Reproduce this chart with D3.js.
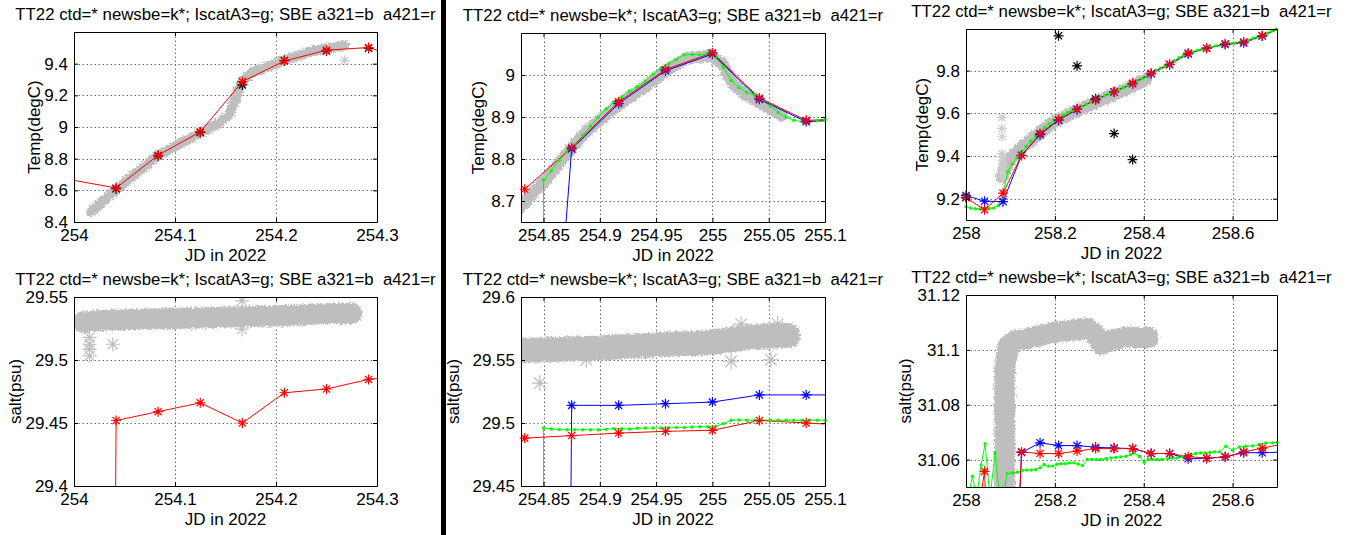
<!DOCTYPE html>
<html>
<head>
<meta charset="utf-8">
<script src="https://cdn.jsdelivr.net/npm/d3@7"></script>
<style>
  html, body { margin: 0; padding: 0; background: #fff; }
  svg { display: block; }
  text.title { white-space: pre; }
</style>
</head>
<body>
<svg id="fig" width="1345" height="535"></svg>
<script>
// ---------------- text ----------------
const titleText = "TT22 ctd=* newsbe=k*; IscatA3=g; SBE a321=b  a421=r";
const xLabelText = "JD in 2022";

// ---------------- tick values ----------------
const xTicksA = [254, 254.1, 254.2, 254.3];
const xTicksB = [254.85, 254.9, 254.95, 255, 255.05, 255.1];
const xTicksC = [258, 258.2, 258.4, 258.6];
const yTicksTempA = [8.4, 8.6, 8.8, 9, 9.2, 9.4];
const yTicksTempB = [8.7, 8.8, 8.9, 9];
const yTicksTempC = [9.2, 9.4, 9.6, 9.8];
const yTicksSaltA = [29.4, 29.45, 29.5, 29.55];
const yTicksSaltB = [29.45, 29.5, 29.55, 29.6];
const yTicksSaltC = [31.06, 31.08, 31.1, 31.12];

// ---------------- day 254 : temperature ----------------
const tempA_ctdJD   = [254.017, 254.041, 254.082, 254.124, 254.144, 254.154, 254.161, 254.167, 254.177, 254.191, 254.208, 254.233, 254.250, 254.268];
const tempA_ctd     = [8.466, 8.600, 8.816, 8.960, 9.025, 9.082, 9.198, 9.294, 9.347, 9.379, 9.421, 9.474, 9.495, 9.517];
const tempA_ctdOddJD = [254.268];
const tempA_ctdOdd   = [9.421];
const tempA_newsbeJD = [254.0417, 254.0833, 254.1250, 254.1667, 254.2083, 254.2500, 254.2917];
const tempA_newsbe   = [8.610, 8.818, 8.966, 9.266, 9.420, 9.480, 9.498];
const tempA_a421JD   = [253.9583, 254.0417, 254.0833, 254.1250, 254.1667, 254.2083, 254.2500, 254.2917, 254.3333];
const tempA_a421     = [8.711, 8.615, 8.822, 8.969, 9.287, 9.417, 9.485, 9.502, 9.420];

// ---------------- day 254/255 : temperature ----------------
const tempB_ctdJD = [254.829, 254.850, 254.875, 254.891, 254.917, 254.936, 254.958, 254.977, 254.998, 255.009, 255.018, 255.030, 255.040, 255.054, 255.062];
const tempB_ctd   = [8.685, 8.745, 8.826, 8.873, 8.930, 8.964, 9.009, 9.040, 9.046, 9.027, 8.980, 8.952, 8.938, 8.916, 8.903];
const iscatJD_B = [254.8431, 254.8500, 254.8569, 254.8639, 254.8708, 254.8778, 254.8847, 254.8917, 254.8986, 254.9056,
                   254.9125, 254.9194, 254.9264, 254.9333, 254.9403, 254.9472, 254.9542, 254.9611, 254.9681, 254.9750,
                   254.9819, 254.9889, 254.9958, 255.0028, 255.0097, 255.0167, 255.0236, 255.0306, 255.0375, 255.0444,
                   255.0514, 255.0583, 255.0653, 255.0722, 255.0792, 255.0861, 255.0931, 255.1000];
const tempB_iscat = [0.0, 8.750, 8.772, 8.797, 8.817, 8.835, 8.856, 8.878, 8.899, 8.919,
                     8.935, 8.948, 8.962, 8.972, 8.985, 9.002, 9.016, 9.027, 9.037, 9.048,
                     9.049, 9.048, 9.052, 9.043, 9.019, 8.987, 8.970, 8.959, 8.952, 8.940,
                     8.926, 8.911, 8.900, 8.892, 8.889, 8.888, 8.891, 8.894];
const sbeJD_B = [254.8333, 254.8750, 254.9167, 254.9583, 255.0000, 255.0417, 255.0833, 255.1250];
const tempB_a321 = [7.37, 8.824, 8.932, 9.010, 9.050, 8.942, 8.889, 8.894];
const tempB_a421 = [8.728, 8.827, 8.936, 9.013, 9.053, 8.945, 8.892, 8.896];

// ---------------- day 258 : temperature ----------------
const tempC_ctdJD = [258.082, 258.090, 258.105, 258.130, 258.160, 258.200, 258.250, 258.300, 258.350, 258.403];
const tempC_ctd   = [9.300, 9.350, 9.400, 9.448, 9.498, 9.562, 9.612, 9.658, 9.703, 9.757];
const tempC_ctdOddJD = [258.081, 258.081, 258.081, 258.081, 258.082, 258.082, 258.083, 258.083, 258.083, 258.084];
const tempC_ctdOdd   = [9.581, 9.529, 9.490, 9.411, 9.395, 9.380, 9.360, 9.340, 9.320, 9.300];
const tempC_newsbeJD = [258.0000, 258.2083, 258.2500, 258.2917, 258.3333, 258.3750];
const tempC_newsbe   = [9.206, 9.963, 9.822, 9.668, 9.505, 9.383];
const iscatJD_C = [258.0000, 258.0104, 258.0208, 258.0313, 258.0417, 258.0521, 258.0625, 258.0729, 258.0833, 258.0938,
                   258.1042, 258.1146, 258.1250, 258.1354, 258.1458, 258.1563, 258.1667, 258.1771, 258.1875, 258.1979,
                   258.2083, 258.2188, 258.2292, 258.2396, 258.2500, 258.2604, 258.2708, 258.2813, 258.2917, 258.3021,
                   258.3125, 258.3229, 258.3333, 258.3438, 258.3542, 258.3646, 258.3750, 258.3854, 258.3958, 258.4063,
                   258.4167, 258.4271, 258.4375, 258.4479, 258.4583, 258.4688, 258.4792, 258.4896, 258.5000, 258.5104,
                   258.5208, 258.5313, 258.5417, 258.5521, 258.5625, 258.5729, 258.5833, 258.5938, 258.6042, 258.6146,
                   258.6250, 258.6354, 258.6458, 258.6563, 258.6667, 258.6771, 258.6875, 258.6979];
const tempC_iscat = [9.162, 9.156, 9.153, 9.152, 9.153, 9.154, 9.156, 9.168, 9.225, 9.325,
                     9.362, 9.392, 9.418, 9.445, 9.470, 9.494, 9.514, 9.533, 9.551, 9.567,
                     9.578, 9.592, 9.604, 9.614, 9.622, 9.632, 9.643, 9.654, 9.664, 9.674,
                     9.684, 9.692, 9.700, 9.710, 9.720, 9.730, 9.740, 9.752, 9.762, 9.772,
                     9.787, 9.802, 9.812, 9.822, 9.832, 9.846, 9.860, 9.872, 9.880, 9.888,
                     9.895, 9.900, 9.904, 9.910, 9.916, 9.920, 9.924, 9.926, 9.928, 9.932,
                     9.935, 9.942, 9.952, 9.958, 9.965, 9.975, 9.985, 9.994];
const sbeJD_C = [258.0000, 258.0417, 258.0833, 258.1250, 258.1667, 258.2083, 258.2500, 258.2917, 258.3333,
                 258.3750, 258.4167, 258.4583, 258.5000, 258.5417, 258.5833, 258.6250, 258.6667, 258.7083];
const tempC_a321 = [9.215, 9.188, 9.186, 9.403, 9.500, 9.568, 9.618, 9.665, 9.700, 9.738, 9.785, 9.828, 9.878, 9.905, 9.922, 9.930, 9.962, 10.000];
const tempC_a421 = [9.204, 9.148, 9.226, 9.402, 9.505, 9.571, 9.620, 9.662, 9.701, 9.741, 9.788, 9.830, 9.882, 9.905, 9.926, 9.934, 9.963, 10.000];

// ---------------- day 254 : salinity ----------------
const saltA_ctdJD = [254.008, 254.033, 254.100, 254.150, 254.200, 254.257, 254.275];
const saltA_ctd   = [29.530, 29.5317, 29.533, 29.534, 29.535, 29.537, 29.537];
const saltA_ctdOddJD = [254.0154, 254.0154, 254.0154, 254.0154, 254.0384, 254.1663, 254.1663];
const saltA_ctdOdd   = [29.5179, 29.5125, 29.5085, 29.5032, 29.5125, 29.547, 29.5245];
const saltA_a421JD = [253.9583, 254.0417, 254.0833, 254.1250, 254.1667, 254.2083, 254.2500, 254.2917, 254.3333];
const saltA_a421   = [20.0, 29.452, 29.459, 29.466, 29.450, 29.474, 29.477, 29.4846, 29.488];

// ---------------- day 254/255 : salinity ----------------
const saltB_ctdJD = [254.828, 254.900, 254.950, 255.000, 255.012, 255.030, 255.050, 255.067];
const saltB_ctd   = [29.5575, 29.5595, 29.562, 29.5638, 29.5655, 29.568, 29.569, 29.5695];
const saltB_ctdOddJD = [254.8467, 255.0166, 255.052, 254.888, 255.0255, 255.058];
const saltB_ctdOdd   = [29.5317, 29.549, 29.5502, 29.5502, 29.5785, 29.5785];
const saltB_iscat = [20.0, 29.4960, 29.4952, 29.4948, 29.4947, 29.4947, 29.4947, 29.4947, 29.4947, 29.4950,
                     29.4955, 29.4955, 29.4952, 29.4958, 29.4960, 29.4960, 29.4960, 29.4962, 29.4965, 29.4965,
                     29.4968, 29.4970, 29.4970, 29.4973, 29.4995, 29.5022, 29.5024, 29.5022, 29.5022, 29.5023,
                     29.5022, 29.5022, 29.5023, 29.5022, 29.5021, 29.5022, 29.5022, 29.5022];
const saltB_a321 = [25.0, 29.514, 29.514, 29.5153, 29.5166, 29.5223, 29.5223, 29.5223];
const saltB_a421 = [29.488, 29.490, 29.492, 29.4934, 29.4942, 29.502, 29.500, 29.498];

// ---------------- day 258 : salinity ----------------
const saltC_ctdJD = [258.087, 258.087, 258.095, 258.110, 258.130, 258.200, 258.275, 258.292, 258.305, 258.325, 258.360, 258.410];
const saltC_ctd   = [31.045, 31.093, 31.1015, 31.1035, 31.1038, 31.1065, 31.1078, 31.1055, 31.1020, 31.1035, 31.1045, 31.1045];
const saltC_ctdOddJD = [258.085, 258.090, 258.084, 258.089, 258.085, 258.088, 258.086, 258.090];
const saltC_ctdOdd   = [31.051, 31.057, 31.063, 31.069, 31.075, 31.081, 31.087, 31.054];
const saltC_iscatJD = [258.003, 258.0145, 258.024, 258.034, 258.043, 258.054, 258.0655, 258.076, 258.084, 258.093,
                       258.104, 258.116, 258.127, 258.137, 258.147, 258.157, 258.167, 258.176, 258.186, 258.195,
                       258.205, 258.214, 258.224, 258.233, 258.243, 258.252, 258.262, 258.273, 258.283, 258.294,
                       258.304, 258.315, 258.326, 258.337, 258.348, 258.360, 258.370, 258.378, 258.390, 258.401,
                       258.410, 258.420, 258.430, 258.440, 258.455, 258.465, 258.475, 258.486, 258.496, 258.507,
                       258.517, 258.528, 258.538, 258.549, 258.559, 258.570, 258.585, 258.600, 258.615, 258.630,
                       258.645, 258.660, 258.675, 258.690, 258.700];
const saltC_iscat = [31.045, 31.0539, 31.046, 31.058, 31.0658, 31.046, 31.0624, 31.046, 31.047, 31.0549,
                     31.0551, 31.0554, 31.0561, 31.0562, 31.0562, 31.0564, 31.0570, 31.0582, 31.0576, 31.0576,
                     31.0583, 31.0585, 31.0585, 31.0588, 31.0588, 31.0584, 31.0578, 31.0600, 31.0600, 31.0600,
                     31.0600, 31.0603, 31.0606, 31.0608, 31.0610, 31.0612, 31.0618, 31.0624, 31.0612, 31.0590,
                     31.0600, 31.0600, 31.0600, 31.0600, 31.0603, 31.0606, 31.0606, 31.0610, 31.0612, 31.0618,
                     31.0622, 31.0624, 31.0624, 31.0626, 31.0628, 31.0628, 31.0649, 31.0634, 31.0646, 31.0649,
                     31.0650, 31.0655, 31.0661, 31.0661, 31.0662];
const saltC_a321JD = [258.0833, 258.1250, 258.1667, 258.2083, 258.2500, 258.2917, 258.3333, 258.3750,
                      258.4167, 258.4583, 258.5000, 258.5417, 258.5833, 258.6250, 258.6667, 258.7083];
const saltC_a321 = [30.900, 31.0626, 31.0661, 31.0651, 31.0651, 31.0645, 31.0642, 31.0640,
                    31.0622, 31.0622, 31.0603, 31.0604, 31.0610, 31.0625, 31.0625, 31.0627];
const saltC_a421 = [31.010, 31.0557, 30.900, 31.0628, 31.0622, 31.0622, 31.0631, 31.0640, 31.0640,
                    31.0640, 31.0622, 31.0622, 31.0611, 31.0605, 31.0610, 31.0628, 31.0642, 31.0655];

// ---------------- drawing ----------------
const FONT = '"Liberation Sans", Arial, Helvetica, sans-serif';
const GREY = "rgb(190,190,190)";
const svg = d3.select("#fig");
const defs = svg.append("defs");

svg.append("rect").attr("width", 1345).attr("height", 535).attr("fill", "#fff");

// rough edge for the dense ctd trace
const fuzz = defs.append("filter").attr("id", "fuzz")
  .attr("filterUnits", "userSpaceOnUse")
  .attr("x", 0).attr("y", 0).attr("width", 1345).attr("height", 535);
fuzz.append("feTurbulence").attr("type", "fractalNoise")
  .attr("baseFrequency", 0.55).attr("numOctaves", 2).attr("seed", 4).attr("result", "noise");
fuzz.append("feDisplacementMap").attr("in", "SourceGraphic").attr("in2", "noise")
  .attr("scale", 6).attr("xChannelSelector", "R").attr("yChannelSelector", "G");

const zip = (a, b) => a.map((v, i) => [v, b[i]]);
const fmt = v => String(+v.toFixed(3));

function starPath(r) {
  const d = r * 0.72;
  return `M${-r},0H${r}M0,${-r}V${r}M${-d},${-d}L${d},${d}M${-d},${d}L${d},${-d}`;
}

const panels = [
  { box: [74, 377, 32, 222], xDomain: [254, 254.3], yDomain: [8.4, 9.6],
    xTicks: xTicksA, yTicks: yTicksTempA, ylabel: "Temp(degC)", ylabelX: 34, bandWidth: 10,
    band: zip(tempA_ctdJD, tempA_ctd),
    odd: zip(tempA_ctdOddJD, tempA_ctdOdd), oddColor: "rgb(200,200,200)", oddR: 5,
    series: [
      { pts: zip(tempA_newsbeJD, tempA_newsbe), color: "#000", line: false, mark: "star" },
      { pts: zip(tempA_a421JD, tempA_a421), color: "#f00", line: true, mark: "star" }
    ] },
  { box: [521, 825, 33, 222], xDomain: [254.83, 255.1], yDomain: [8.65, 9.1],
    xTicks: xTicksB, yTicks: yTicksTempB, ylabel: "Temp(degC)", ylabelX: 478, bandWidth: 12,
    band: zip(tempB_ctdJD, tempB_ctd), odd: [], oddColor: GREY, oddR: 6,
    series: [
      { pts: zip(iscatJD_B, tempB_iscat), color: "#0f0", line: true, mark: "dot" },
      { pts: zip(sbeJD_B, tempB_a321), color: "#00f", line: true, mark: "star" },
      { pts: zip(sbeJD_B, tempB_a421), color: "#f00", line: true, mark: "star" }
    ] },
  { box: [966, 1277, 29, 220], xDomain: [258, 258.7], yDomain: [9.1, 9.995],
    xTicks: xTicksC, yTicks: yTicksTempC, ylabel: "Temp(degC)", ylabelX: 922.5, bandWidth: 13,
    band: zip(tempC_ctdJD, tempC_ctd),
    odd: zip(tempC_ctdOddJD, tempC_ctdOdd), oddColor: "rgb(205,205,205)", oddR: 5,
    series: [
      { pts: zip(tempC_newsbeJD, tempC_newsbe), color: "#000", line: false, mark: "star" },
      { pts: zip(iscatJD_C, tempC_iscat), color: "#0f0", line: true, mark: "dot" },
      { pts: zip(sbeJD_C, tempC_a321), color: "#00f", line: true, mark: "star" },
      { pts: zip(sbeJD_C, tempC_a421), color: "#f00", line: true, mark: "star" }
    ] },
  { box: [74, 377, 297, 486], xDomain: [254, 254.3], yDomain: [29.4, 29.55],
    xTicks: xTicksA, yTicks: yTicksSaltA, ylabel: "salt(psu)", ylabelX: 15, bandWidth: 21,
    band: zip(saltA_ctdJD, saltA_ctd),
    odd: zip(saltA_ctdOddJD, saltA_ctdOdd), oddColor: GREY, oddR: 7,
    series: [
      { pts: zip(saltA_a421JD, saltA_a421), color: "#f00", line: true, mark: "star" }
    ] },
  { box: [521, 825, 297, 486], xDomain: [254.83, 255.1], yDomain: [29.45, 29.6],
    xTicks: xTicksB, yTicks: yTicksSaltB, ylabel: "salt(psu)", ylabelX: 453, bandWidth: 25,
    band: zip(saltB_ctdJD, saltB_ctd),
    odd: zip(saltB_ctdOddJD, saltB_ctdOdd), oddColor: GREY, oddR: 8,
    series: [
      { pts: zip(iscatJD_B, saltB_iscat), color: "#0f0", line: true, mark: "dot" },
      { pts: zip(sbeJD_B, saltB_a321), color: "#00f", line: true, mark: "star" },
      { pts: zip(sbeJD_B, saltB_a421), color: "#f00", line: true, mark: "star" }
    ] },
  { box: [966, 1277, 295, 487], xDomain: [258, 258.7], yDomain: [31.05, 31.12],
    xTicks: xTicksC, yTicks: yTicksSaltC, ylabel: "salt(psu)", ylabelX: 905, bandWidth: 21,
    band: zip(saltC_ctdJD, saltC_ctd),
    odd: zip(saltC_ctdOddJD, saltC_ctdOdd), oddColor: GREY, oddR: 8,
    series: [
      { pts: zip(saltC_iscatJD, saltC_iscat), color: "#0f0", line: true, mark: "dot" },
      { pts: zip(saltC_a321JD, saltC_a321), color: "#00f", line: true, mark: "star" },
      { pts: zip(sbeJD_C, saltC_a421), color: "#f00", line: true, mark: "star" }
    ] }
];

function drawPanel(p, idx) {
  const [L, R, T, B] = p.box;
  const x = d3.scaleLinear().domain(p.xDomain).range([L, R]);
  const y = d3.scaleLinear().domain(p.yDomain).range([B, T]);
  const g = svg.append("g");
  const clipId = "plotclip" + idx;
  defs.append("clipPath").attr("id", clipId).append("rect")
    .attr("x", L + 0.5).attr("y", T + 0.5).attr("width", R - L).attr("height", B - T);

  g.append("rect").attr("x", L).attr("y", T).attr("width", R - L).attr("height", B - T).attr("fill", "#fff");

  // dotted grid
  const grid = g.append("g").attr("stroke", "#707070").attr("stroke-width", 1)
    .attr("stroke-dasharray", "1.5,2.5");
  p.xTicks.forEach(v => {
    const px = Math.round(x(v)) + 0.5;
    if (px > L + 1.5 && px < R - 0.5)
      grid.append("line").attr("x1", px).attr("x2", px).attr("y1", T + 0.5).attr("y2", B + 0.5);
  });
  p.yTicks.forEach(v => {
    const py = Math.round(y(v)) + 0.5;
    if (py > T + 1.5 && py < B - 0.5)
      grid.append("line").attr("x1", L + 0.5).attr("x2", R + 0.5).attr("y1", py).attr("y2", py);
  });

  const line = d3.line().x(d => x(d[0])).y(d => y(d[1]));
  const inside = d => d[0] >= p.xDomain[0] - 1e-9 && d[0] <= p.xDomain[1] + 1e-9 &&
                      d[1] >= p.yDomain[0] && d[1] <= p.yDomain[1];

  // ctd trace: dense grey asterisks drawn as a broad rough band
  const clipped = g.append("g").attr("clip-path", `url(#${clipId})`);
  clipped.append("path").datum(p.band).attr("d", line)
    .attr("fill", "none").attr("stroke", GREY).attr("stroke-width", p.bandWidth)
    .attr("stroke-linecap", "round").attr("stroke-linejoin", "round")
    .attr("filter", "url(#fuzz)");
  clipped.selectAll("path.odd").data(p.odd).join("path").attr("class", "odd")
    .attr("transform", d => `translate(${x(d[0])},${y(d[1])})`)
    .attr("d", starPath(p.oddR)).attr("fill", "none").attr("stroke", p.oddColor).attr("stroke-width", 1.2);

  // instrument series
  p.series.forEach(s => {
    if (s.line) {
      clipped.append("path").datum(s.pts).attr("d", line)
        .attr("fill", "none").attr("stroke", s.color).attr("stroke-width", 1);
    }
    const shown = s.pts.filter(inside);
    if (s.mark === "star") {
      g.append("g").selectAll("path").data(shown).join("path")
        .attr("transform", d => `translate(${x(d[0])},${y(d[1])})`)
        .attr("d", starPath(5)).attr("fill", "none").attr("stroke", s.color).attr("stroke-width", 1.2);
    } else if (s.mark === "dot") {
      g.append("g").selectAll("circle").data(shown).join("circle")
        .attr("cx", d => x(d[0])).attr("cy", d => y(d[1])).attr("r", 1.7).attr("fill", s.color);
    }
  });

  // axes box with inward ticks
  const styleAxis = sel => sel.attr("font-size", 17).attr("font-family", FONT)
    .call(a => a.selectAll("text").attr("fill", "#000"))
    .call(a => a.selectAll("line,path").attr("stroke", "#000"));
  g.append("g").attr("transform", `translate(0,${B})`)
    .call(d3.axisBottom(x).tickValues(p.xTicks).tickSize(-4).tickSizeOuter(0).tickPadding(7).tickFormat(fmt))
    .call(styleAxis);
  g.append("g").attr("transform", `translate(0,${T})`)
    .call(d3.axisTop(x).tickValues(p.xTicks).tickSize(-4).tickSizeOuter(0).tickFormat(""))
    .call(styleAxis);
  g.append("g").attr("transform", `translate(${L},0)`)
    .call(d3.axisLeft(y).tickValues(p.yTicks).tickSize(-4).tickSizeOuter(0).tickPadding(6).tickFormat(fmt))
    .call(styleAxis);
  g.append("g").attr("transform", `translate(${R},0)`)
    .call(d3.axisRight(y).tickValues(p.yTicks).tickSize(-4).tickSizeOuter(0).tickFormat(""))
    .call(styleAxis);

  // labels
  const cx = (L + R) / 2;
  g.append("text").attr("class", "title").attr("x", cx).attr("y", T - 12.5).attr("text-anchor", "middle")
    .attr("font-family", FONT).attr("font-size", 16.8).text(titleText);
  g.append("text").attr("x", cx).attr("y", B + 39).attr("text-anchor", "middle")
    .attr("font-family", FONT).attr("font-size", 17).text(xLabelText);
  g.append("text").attr("transform", `translate(${p.ylabelX},${(T + B) / 2}) rotate(-90)`)
    .attr("dy", "0.35em").attr("text-anchor", "middle")
    .attr("font-family", FONT).attr("font-size", 17).text(p.ylabel);
}

panels.forEach(drawPanel);

// divider between the first and second column of plots
svg.append("rect").attr("x", 441).attr("y", 0).attr("width", 5).attr("height", 535).attr("fill", "#000");
</script>
</body>
</html>
